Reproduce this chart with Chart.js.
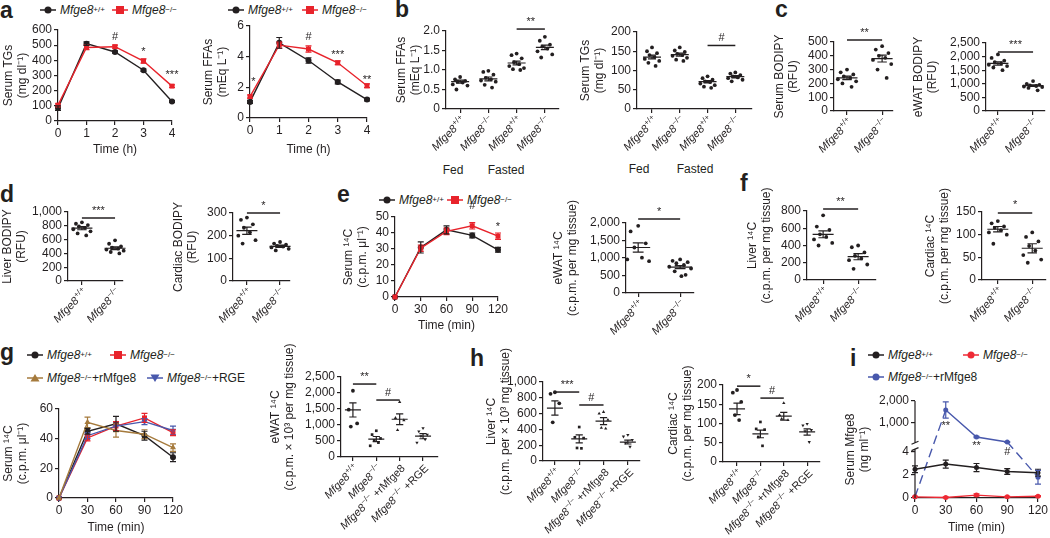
<!DOCTYPE html>
<html>
<head>
<meta charset="utf-8">
<script src="https://cdn.jsdelivr.net/npm/chart.js@4"></script>
<style>
body{margin:0;background:#fff;width:1050px;height:538px;position:relative;overflow:hidden;font-family:"Liberation Sans",Arial,sans-serif;color:#231f20}
canvas{position:absolute}
.lt{position:absolute;font-weight:bold;font-size:23px;line-height:23px}
.lg{position:absolute;font-size:12px;line-height:14px;height:14px;white-space:nowrap;display:flex;align-items:center}
.lg svg{margin-right:4px}
.lg sup{font-size:8px;vertical-align:5px;line-height:0}
.grp{position:absolute;font-size:12px;line-height:14px;transform:translateX(-50%)}
</style>
</head>
<body>
<script>
// ==== DỮ LIỆU ====

// a: TG và FFA huyết thanh theo giờ
const hoursA = [0, 1, 2, 3, 4];
const tgWT = [85, 510, 455, 335, 128];
const tgWTErr = [15, 12, 8, 8, 6];
const tgKO = [105, 485, 490, 395, 230];
const tgKOErr = [8, 15, 10, 14, 8];
const ffaWT = [1.05, 4.9, 3.75, 2.35, 1.2];
const ffaWTErr = [0.1, 0.35, 0.18, 0.12, 0.08];
const ffaKO = [1.4, 4.75, 4.5, 3.6, 2.1];
const ffaKOErr = [0.1, 0.2, 0.2, 0.12, 0.12];

// b: fed / fasted
const bFFA = [
    [0.82, 0.76, 0.72, 0.70, 0.68, 0.63, 0.60, 0.50],
    [0.98, 0.95, 0.88, 0.80, 0.76, 0.73, 0.70, 0.62, 0.55],
    [1.42, 1.38, 1.30, 1.20, 1.15, 1.10, 1.05, 1.02, 1.00],
    [1.85, 1.75, 1.65, 1.60, 1.55, 1.48, 1.40, 1.32],
];
const bFFAMean = [0.70, 0.77, 1.18, 1.58];
const bFFASem = [0.04, 0.05, 0.05, 0.06];
const bTG = [
    [160, 150, 145, 140, 135, 130, 125, 120, 112],
    [160, 152, 148, 143, 140, 138, 133, 128, 125],
    [85, 80, 76, 72, 70, 66, 62, 58, 55],
    [95, 92, 88, 85, 82, 80, 76, 72],
];
const bTGMean = [135, 141, 71, 84];
const bTGSem = [5, 4, 3, 3];

// c: BODIPY
const cSerum = [[300, 280, 265, 250, 240, 230, 215, 200, 175], [470, 445, 420, 400, 385, 370, 340, 300, 240]];
const cSerumMean = [240, 380];
const cSerumSem = [13, 25];
const cWat = [[2080, 1950, 1850, 1800, 1750, 1700, 1650, 1600, 1500], [1100, 1000, 960, 940, 920, 900, 880, 850, 760]];
const cWatMean = [1750, 930];
const cWatSem = [60, 30];

// d: BODIPY gan / tim
const dLiver = [[850, 830, 810, 790, 770, 750, 720, 690, 660], [590, 540, 500, 485, 470, 455, 440, 420, 400]];
const dLiverMean = [765, 475];
const dLiverSem = [22, 20];
const dHeart = [[280, 270, 250, 235, 215, 200, 180, 165], [172, 165, 160, 155, 152, 148, 142, 135]];
const dHeartMean = [222, 153];
const dHeartSem = [16, 5];

// e: 14C
const minutes = [0, 30, 60, 90, 120];
const eWT = [0, 31, 42, 38.5, 29.5];
const eWTErr = [0, 3.5, 2.5, 1.5, 1.5];
const eKO = [0, 30.5, 41, 44.5, 38];
const eKOErr = [0, 2, 2, 2, 2];
const eWat = [[1920, 1760, 1420, 1300, 1010, 960, 910], [960, 920, 880, 850, 800, 750, 700, 620, 520, 480]];
const eWatMean = [1300, 740];
const eWatSem = [130, 45];

// f: 14C gan / tim
const fLiver = [[750, 620, 580, 530, 500, 470, 430, 400], [400, 380, 320, 280, 250, 230, 180, 130]];
const fLiverMean = [530, 270];
const fLiverSem = [40, 35];
const fHeart = [[130, 125, 118, 115, 110, 105, 100, 80], [105, 95, 85, 75, 65, 55, 45, 38]];
const fHeartMean = [112, 70];
const fHeartSem = [6, 10];

// g: 4 nhóm
const gWT = [0, 45, 50, 42, 27.5];
const gWTErr = [0, 2, 5, 3, 3];
const gKO = [0, 40.5, 48.5, 54, 44];
const gKOErr = [0, 2, 3, 3, 2];
const gRM = [0, 51, 45.5, 43, 34];
const gRMErr = [0, 3.5, 4.5, 3, 2.5];
const gRGE = [0, 42, 48.5, 51.5, 45.5];
const gRGEErr = [0, 2, 3, 2, 3];
const gWat = [[2070, 1480, 1050, 950], [820, 700, 580, 520, 450, 350], [1720, 1220, 1150, 840], [900, 800, 700, 650, 550, 450]];
const gWatMean = [1470, 560, 1180, 650];
const gWatSem = [220, 80, 170, 80];

// h
const hLiver = [[870, 850, 730, 490], [430, 300, 290, 165, 160], [620, 600, 520, 420, 410], [330, 310, 265, 230, 180]];
const hLiverMean = [670, 280, 505, 240];
const hLiverSem = [90, 50, 45, 25];
const hHeart = [[187, 180, 156, 122, 109], [104, 86, 84, 65, 42], [153, 122, 109, 112], [99, 95, 83, 80, 52]];
const hHeartMean = [138, 73, 119, 78];
const hHeartSem = [15, 10, 10, 8];

// i: Mfge8 huyết thanh (trục gãy)
const iWT = [2.5, 2.95, 2.65, 2.3, 2.2];
const iWTErr = [0.3, 0.35, 0.35, 0.25, 0.3];
const iKO = [0.1, 0.05, 0.25, 0.1, 0.15];
const iKOErr = [0.05, 0.05, 0.1, 0.05, 0.05];
const iRM = [0.1, 1590, 360, 136, 1.8];
const iRMErr = [0, 370, 30, 15, 0.6];
const iTicks = [0, 2, 4, 1000, 2000];

// nhãn kiểu gen: [chỉ số trên, phần đuôi]
const WT = ["+/+", ""];
const KO = ["−/−", ""];
const KORM = ["−/−", " +rMfge8"];
const KORGE = ["−/−", " +RGE"];
const twoGeno = [WT, KO];
const fourFed = [WT, KO, WT, KO];
const fourTreat = [WT, KO, KORM, KORGE];

// ==== KIỂU ====
const FONT = '"Liberation Sans", Arial, Helvetica, sans-serif';
const INK = "#231f20";
const RED = "#e8232b";
const BROWN = "#a57a3c";
const BLUE = "#4858ac";
const JIT = [0, -0.18, 0.18, -0.09, 0.09, -0.26, 0.26, -0.13, 0.13, 0.03];

Chart.defaults.font.family = FONT;
Chart.defaults.color = INK;

// trục gãy cho panel i
const brk = (v) => (v <= 5 ? v : 4.61 + (1.91 * v) / 1000);

function fmt(v, dec) {
    if (v === 0) return "0";
    return dec ? v.toFixed(dec) : v.toLocaleString("en-US");
}

function steps(max, step) {
    const out = [];
    for (let i = 0; i * step <= max + 1e-9; i++) out.push(Math.round(i * step * 1000) / 1000);
    return out;
}

function drawGeno(ctx, x, y, g) {
    const [sup, tail] = g;
    const fi = `italic 11px ${FONT}`, fs = `8px ${FONT}`, fn = `11px ${FONT}`;
    ctx.font = fi;
    const w1 = ctx.measureText("Mfge8").width + 0.5;
    ctx.font = fs;
    const w2 = ctx.measureText(sup).width;
    ctx.font = fn;
    const w3 = tail ? ctx.measureText(tail).width : 0;
    ctx.save();
    ctx.translate(x, y);
    ctx.rotate(-Math.PI / 4);
    ctx.fillStyle = INK;
    ctx.textAlign = "left";
    ctx.textBaseline = "alphabetic";
    let p = -(w1 + w2 + w3);
    ctx.font = fi;
    ctx.fillText("Mfge8", p, 0);
    p += w1;
    ctx.font = fs;
    ctx.fillText(sup, p, -4.5);
    p += w2;
    if (tail) {
        ctx.font = fn;
        ctx.fillText(tail, p, 0);
    }
    ctx.restore();
}

// plugin: error bar, mean ± SEM, vạch ý nghĩa, ghi chú, nhãn kiểu gen
const extras = {
    id: "extras",
    afterDraw(chart, args, o) {
        const ctx = chart.ctx, sx = chart.scales.x, sy = chart.scales.y, ca = chart.chartArea;
        const map = o.map || ((v) => v);
        ctx.save();
        ctx.lineWidth = 1.2;
        chart.data.datasets.forEach((ds, di) => {
            if (!ds.errs) return;
            const meta = chart.getDatasetMeta(di);
            ctx.strokeStyle = ds.borderColor;
            ds.raw.forEach((v, i) => {
                const e = ds.errs[i];
                if (!e) return;
                const px = meta.data[i].x;
                const t = sy.getPixelForValue(map(v + e));
                const b = sy.getPixelForValue(map(Math.max(v - e, 0)));
                ctx.beginPath();
                ctx.moveTo(px, t); ctx.lineTo(px, b);
                ctx.moveTo(px - 3, t); ctx.lineTo(px + 3, t);
                ctx.moveTo(px - 3, b); ctx.lineTo(px + 3, b);
                ctx.stroke();
            });
        });
        ctx.strokeStyle = INK;
        const mw = o.mw || 10.5, cw = mw * 0.45;
        (o.means || []).forEach((m, i) => {
            const px = sx.getPixelForValue(i);
            const pm = sy.getPixelForValue(m);
            const pt = sy.getPixelForValue(m + o.sems[i]);
            const pb = sy.getPixelForValue(m - o.sems[i]);
            ctx.beginPath();
            ctx.moveTo(px - mw, pm); ctx.lineTo(px + mw, pm);
            ctx.moveTo(px, pt); ctx.lineTo(px, pb);
            ctx.moveTo(px - cw, pt); ctx.lineTo(px + cw, pt);
            ctx.moveTo(px - cw, pb); ctx.lineTo(px + cw, pb);
            ctx.stroke();
        });
        ctx.fillStyle = INK;
        ctx.font = `11px ${FONT}`;
        ctx.textAlign = "center";
        (o.sig || []).forEach(([a, b, v, t]) => {
            const pa = sx.getPixelForValue(a), pb = sx.getPixelForValue(b), py = sy.getPixelForValue(v);
            ctx.lineWidth = 1.5;
            ctx.beginPath();
            ctx.moveTo(pa, py); ctx.lineTo(pb, py);
            ctx.stroke();
            ctx.textBaseline = "bottom";
            ctx.fillText(t, (pa + pb) / 2, py - 2);
        });
        (o.notes || []).forEach(([vx, vy, t]) => {
            ctx.textBaseline = "middle";
            ctx.fillText(t, sx.getPixelForValue(vx), sy.getPixelForValue(vy));
        });
        if (o.brk) {
            const x = ca.left, [lo, hi] = o.brk;
            ctx.lineWidth = 1.2;
            ctx.beginPath();
            ctx.moveTo(x, ca.bottom); ctx.lineTo(x, sy.getPixelForValue(lo));
            ctx.moveTo(x, sy.getPixelForValue(hi)); ctx.lineTo(x, ca.top);
            [lo, hi].forEach((v) => {
                const p = sy.getPixelForValue(v);
                ctx.moveTo(x - 3.5, p + 1.5); ctx.lineTo(x + 3.5, p - 1.5);
            });
            ctx.stroke();
        }
        if (o.geno) o.geno.forEach((g, i) => drawGeno(ctx, sx.getPixelForValue(i) + 6, ca.bottom + 12, g));
        ctx.restore();
    },
};

function place(c) {
    const pt = c.pt ?? 24, pr = c.pr ?? 12;
    const cv = document.createElement("canvas");
    cv.width = c.x1 - c.x0 + c.yw + pr;
    cv.height = c.yB - c.yT + pt + c.xh;
    cv.style.left = c.x0 - c.yw + "px";
    cv.style.top = c.yT - pt + "px";
    document.body.appendChild(cv);
    return { cv, pt, pr };
}

const axisLine = { color: INK, width: 1.2 };
const axisGrid = { drawOnChartArea: false, color: INK, tickLength: 4, lineWidth: 1.2 };

function yAxis(c) {
    const tv = c.yticks ? c.yticks.map(c.map) : steps(c.ymax, c.step);
    return {
        min: 0,
        max: c.ymax,
        border: c.yticks ? { display: false } : axisLine,
        grid: axisGrid,
        afterBuildTicks: (s) => { s.ticks = tv.map((v) => ({ value: v })); },
        ticks: {
            autoSkip: false, padding: 2, color: INK, font: { size: 12 },
            callback: (v, i) => (c.yticks ? fmt(c.yticks[i]) : fmt(v, c.dec)),
        },
        title: { display: true, text: c.ytitle, padding: 0, color: INK, font: { size: 12 } },
        afterFit: (s) => { s.width = c.yw; },
    };
}

function baseOptions(pt, pr, ext) {
    return {
        responsive: false,
        animation: false,
        devicePixelRatio: 1,
        layout: { padding: { top: pt, right: pr, left: 0, bottom: 0 } },
        plugins: { legend: { display: false }, tooltip: { enabled: false }, extras: ext },
    };
}

function dotChart(c) {
    const { cv, pt, pr } = place(c);
    const pts = [];
    c.groups.forEach((g, i) => g.forEach((v, j) => pts.push({ x: i + JIT[j % JIT.length], y: v, k: i })));
    const opts = baseOptions(pt, pr, { means: c.means, sems: c.sems, sig: c.sig, geno: c.geno, mw: c.mw });
    opts.scales = {
        x: {
            type: "linear",
            min: c.xmin,
            max: c.xmax,
            border: axisLine,
            grid: axisGrid,
            ticks: { display: false },
            afterBuildTicks: (s) => { s.ticks = c.geno.map((_, i) => ({ value: i })); },
            afterFit: (s) => { s.height = c.xh; },
        },
        y: yAxis(c),
    };
    new Chart(cv, {
        type: "scatter",
        data: {
            datasets: [{
                data: pts,
                pointRadius: 1.9,
                pointBorderWidth: 0,
                pointBackgroundColor: INK,
                pointStyle: (ctx) => (c.shapes && ctx.raw ? c.shapes[ctx.raw.k] : "circle"),
                pointRotation: (ctx) => (c.shapes && ctx.raw && ctx.raw.k === 3 ? 180 : 0),
                clip: false,
            }],
        },
        options: opts,
        plugins: [extras],
    });
}

function lineChart(c) {
    const { cv, pt, pr } = place(c);
    const map = c.map || ((v) => v);
    const opts = baseOptions(pt, pr, { notes: c.notes, map: c.map, brk: c.brk });
    opts.scales = {
        x: {
            type: "linear",
            min: c.xs[0],
            max: c.xs[c.xs.length - 1],
            border: axisLine,
            grid: axisGrid,
            afterBuildTicks: (s) => { s.ticks = c.xs.map((v) => ({ value: v })); },
            ticks: { autoSkip: false, maxRotation: 0, minRotation: 0, padding: 1, color: INK, font: { size: 12 } },
            title: { display: true, text: c.xtitle, padding: 0, color: INK, font: { size: 12 } },
            afterFit: (s) => { s.height = c.xh; },
        },
        y: yAxis(c),
    };
    new Chart(cv, {
        type: "line",
        data: {
            datasets: c.series.map((s) => ({
                data: c.xs.map((t, i) => ({ x: t, y: map(s.v[i]) })),
                raw: s.v,
                errs: s.e,
                borderColor: s.color,
                backgroundColor: s.color,
                pointBackgroundColor: s.color,
                pointBorderWidth: 0,
                pointStyle: s.shape,
                pointRadius: s.r || 3,
                pointRotation: s.rot || 0,
                borderWidth: 1.4,
                tension: 0,
                clip: false,
                segment: c.brk
                    ? { borderDash: (ctx) => ((ctx.p0.parsed.y < 4.5) !== (ctx.p1.parsed.y < 4.5) ? [9, 5] : undefined) }
                    : {},
            })),
        },
        options: opts,
        plugins: [extras],
    });
}

// ==== CHÚ THÍCH / CHỮ ====
function text(cls, x, y, html) {
    const d = document.createElement("div");
    d.className = cls;
    d.style.left = x + "px";
    d.style.top = y + "px";
    d.innerHTML = html;
    document.body.appendChild(d);
}

function marker(c, s) {
    let m = `<circle cx="8" cy="5" r="3.5" fill="${c}"/>`;
    if (s === "rect") m = `<rect x="4" y="1" width="8" height="8" fill="${c}"/>`;
    if (s === "tri") m = `<path d="M8 1 L12.5 8.5 L3.5 8.5Z" fill="${c}"/>`;
    if (s === "tridown") m = `<path d="M3.5 1.5 L12.5 1.5 L8 9Z" fill="${c}"/>`;
    return `<svg width="16" height="10"><line x1="0" y1="5" x2="16" y2="5" stroke="${c}" stroke-width="1.5"/>${m}</svg>`;
}

const lgWT = "<i>Mfge8</i><sup>+/+</sup>";
const lgKO = "<i>Mfge8</i><sup>−/−</sup>";

function legendItem(x, y, color, shape, html) {
    text("lg", x, y - 7, marker(color, shape) + html);
}

[["a", 0, 18], ["b", 395, 17], ["c", 775, 17], ["d", 0, 202], ["e", 337, 202],
 ["f", 740, 191], ["g", 0, 360], ["h", 470, 366], ["i", 850, 366]]
    .forEach(([l, x, b]) => text("lt", x, b - 19.5, l));

legendItem(40, 10, INK, "circle", lgWT);
legendItem(112, 10, RED, "rect", lgKO);
legendItem(228, 10, INK, "circle", lgWT);
legendItem(302, 10, RED, "rect", lgKO);
legendItem(379, 200, INK, "circle", lgWT);
legendItem(447, 200, RED, "rect", lgKO);
legendItem(27, 355, INK, "circle", lgWT);
legendItem(110, 355, RED, "rect", lgKO);
legendItem(27, 378, BROWN, "tri", lgKO + "+rMfge8");
legendItem(147, 378, BLUE, "tridown", lgKO + "+RGE");
legendItem(868, 355, INK, "circle", lgWT);
legendItem(963, 355, "#ee2a35", "circle", lgKO);
legendItem(868, 377, BLUE, "circle", lgKO + "+rMfge8");

text("grp", 453, 163, "Fed");
text("grp", 506, 163, "Fasted");
text("grp", 639, 162, "Fed");
text("grp", 695, 162, "Fasted");

// ==== VẼ ====
// a
lineChart({
    x0: 58, x1: 172, yT: 30, yB: 121, yw: 57, xh: 36, pr: 14,
    ymax: 600, step: 100, ytitle: ["Serum TGs", "(mg dl⁻¹)"],
    xs: hoursA, xtitle: "Time (h)",
    series: [
        { v: tgKO, e: tgKOErr, color: RED, shape: "rect", r: 3.5 },
        { v: tgWT, e: tgWTErr, color: INK, shape: "circle" },
    ],
    notes: [[2, 554, "#"], [3, 455, "*"], [4, 303, "***"]],
});
lineChart({
    x0: 250, x1: 367, yT: 26, yB: 118, yw: 49, xh: 39, pr: 14,
    ymax: 6, step: 2, ytitle: ["Serum FFAs", "(mEq L⁻¹)"],
    xs: hoursA, xtitle: "Time (h)",
    series: [
        { v: ffaKO, e: ffaKOErr, color: RED, shape: "rect", r: 3.5 },
        { v: ffaWT, e: ffaWTErr, color: INK, shape: "circle" },
    ],
    notes: [[0.12, 2.35, "*"], [2, 5.3, "#"], [3, 4.1, "***"], [4, 2.5, "**"]],
});

// b
dotChart({
    x0: 446, x1: 559, yT: 31, yB: 109, yw: 52, xh: 70, xmin: -0.5, xmax: 3.5,
    ymax: 2, step: 0.5, dec: 1, ytitle: ["Serum FFAs", "(mEq L⁻¹)"],
    groups: bFFA, means: bFFAMean, sems: bFFASem, geno: fourFed, mw: 9,
    sig: [[2, 3, 2.05, "**"]],
});
dotChart({
    x0: 637, x1: 752, yT: 32, yB: 109, yw: 59, xh: 70, xmin: -0.54, xmax: 3.6,
    ymax: 200, step: 50, ytitle: ["Serum TGs", "(mg dl⁻¹)"],
    groups: bTG, means: bTGMean, sems: bTGSem, geno: fourFed, mw: 9,
    sig: [[2, 3, 165, "#"]],
});

// c
dotChart({
    x0: 834, x1: 893, yT: 42, yB: 111, yw: 62, xh: 70, xmin: -0.37, xmax: 1.31,
    ymax: 500, step: 100, ytitle: ["Serum BODIPY", "(RFU)"],
    groups: cSerum, means: cSerumMean, sems: cSerumSem, geno: twoGeno,
    sig: [[0, 1, 514, "**"]],
});
dotChart({
    x0: 986, x1: 1045, yT: 43, yB: 111, yw: 75, xh: 70, pr: 4, xmin: -0.34, xmax: 1.34,
    ymax: 2500, step: 500, ytitle: ["eWAT BODIPY", "(RFU)"],
    groups: cWat, means: cWatMean, sems: cWatSem, geno: twoGeno,
    sig: [[0, 1, 2170, "***"]],
});

// d
dotChart({
    x0: 68, x1: 123, yT: 212, yB: 281, yw: 68, xh: 70, xmin: -0.42, xmax: 1.24,
    ymax: 1000, step: 200, ytitle: ["Liver BODIPY", "(RFU)"],
    groups: dLiver, means: dLiverMean, sems: dLiverSem, geno: twoGeno,
    sig: [[0, 1, 913, "***"]],
});
dotChart({
    x0: 233, x1: 290, yT: 213, yB: 281, yw: 62, xh: 70, xmin: -0.42, xmax: 1.3,
    ymax: 300, step: 100, ytitle: ["Cardiac BODIPY", "(RFU)"],
    groups: dHeart, means: dHeartMean, sems: dHeartSem, geno: twoGeno,
    sig: [[0, 1, 300, "*"]],
});

// e
lineChart({
    x0: 395, x1: 498, yT: 217, yB: 297, yw: 54, xh: 36, pr: 14,
    ymax: 50, step: 10, ytitle: ["Serum ¹⁴C", "(c.p.m. μl⁻¹)"],
    xs: minutes, xtitle: "Time (min)",
    series: [
        { v: eKO, e: eKOErr, color: RED, shape: "rect", r: 3.5 },
        { v: eWT, e: eWTErr, color: INK, shape: "circle" },
    ],
    notes: [[90, 57, "#"], [120, 43.7, "*"]],
});
dotChart({
    x0: 626, x1: 694, yT: 223, yB: 293, yw: 75, xh: 70, pt: 32, xmin: -0.29, xmax: 1.33,
    ymax: 2000, step: 500, ytitle: ["eWAT ¹⁴C", "(c.p.m. per mg tissue)"],
    groups: eWat, means: eWatMean, sems: eWatSem, geno: twoGeno, mw: 12,
    sig: [[0, 1, 2114, "*"]],
});

// f
dotChart({
    x0: 807, x1: 876, yT: 211, yB: 280, yw: 62, xh: 70, pt: 32, xmin: -0.46, xmax: 1.51,
    ymax: 800, step: 200, ytitle: ["Liver ¹⁴C", "(c.p.m. per mg tissue)"],
    groups: fLiver, means: fLiverMean, sems: fLiverSem, geno: twoGeno,
    sig: [[0, 1, 823, "**"]],
});
dotChart({
    x0: 982, x1: 1047, yT: 212, yB: 280, yw: 59, xh: 70, pt: 32, pr: 3, xmin: -0.46, xmax: 1.4,
    ymax: 150, step: 50, ytitle: ["Cardiac ¹⁴C", "(c.p.m. per mg tissue)"],
    groups: fHeart, means: fHeartMean, sems: fHeartSem, geno: twoGeno,
    sig: [[0, 1, 148, "*"]],
});

// g
lineChart({
    x0: 59, x1: 173, yT: 409, yB: 498, yw: 58, xh: 37, pr: 14,
    ymax: 60, step: 20, ytitle: ["Serum ¹⁴C", "(c.p.m. μl⁻¹)"],
    xs: minutes, xtitle: "Time (min)",
    series: [
        { v: gRM, e: gRMErr, color: BROWN, shape: "triangle", r: 3.5 },
        { v: gRGE, e: gRGEErr, color: BLUE, shape: "triangle", r: 3.5, rot: 180 },
        { v: gKO, e: gKOErr, color: RED, shape: "rect", r: 3.5 },
        { v: gWT, e: gWTErr, color: INK, shape: "circle" },
    ],
});
dotChart({
    x0: 341, x1: 438, yT: 377, yB: 457, yw: 73, xh: 85, pt: 45, xmin: -0.51, xmax: 3.64,
    ymax: 2500, step: 500, ytitle: ["eWAT ¹⁴C", "(c.p.m. × 10³ per mg tissue)"],
    groups: gWat, means: gWatMean, sems: gWatSem, geno: fourTreat, mw: 8,
    shapes: ["circle", "rect", "triangle", "triangle"],
    sig: [[0, 1, 2280, "**"], [1, 2, 1780, "#"]],
});

// h
dotChart({
    x0: 543, x1: 640, yT: 382, yB: 461, yw: 59, xh: 80, pt: 45, xmin: -0.49, xmax: 3.5,
    ymax: 1000, step: 200, ytitle: ["Liver ¹⁴C", "(c.p.m. per × 10³ mg tissue)"],
    groups: hLiver, means: hLiverMean, sems: hLiverSem, geno: fourTreat, mw: 8,
    shapes: ["circle", "rect", "triangle", "triangle"],
    sig: [[0, 1, 873, "***"], [1, 2, 709, "#"]],
});
dotChart({
    x0: 723, x1: 820, yT: 385, yB: 462, yw: 57, xh: 80, pt: 40, xmin: -0.6, xmax: 3.55,
    ymax: 200, step: 50, ytitle: ["Cardiac ¹⁴C", "(c.p.m. per mg tissue)"],
    groups: hHeart, means: hHeartMean, sems: hHeartSem, geno: fourTreat, mw: 8,
    shapes: ["circle", "rect", "triangle", "triangle"],
    sig: [[0, 1, 197, "*"], [1, 2, 166, "#"]],
});

// i (trục y gãy)
lineChart({
    x0: 915, x1: 1040, yT: 401, yB: 498, yw: 72, xh: 37, pr: 9,
    ymax: brk(2000), yticks: iTicks, map: brk, brk: [4.25, 4.8],
    ytitle: ["Serum Mfge8", "(ng ml⁻¹)"],
    xs: minutes, xtitle: "Time (min)",
    series: [
        { v: iKO, e: iKOErr, color: "#ee2a35", shape: "circle", r: 2.5 },
        { v: iWT, e: iWTErr, color: INK, shape: "circle", r: 2.5 },
        { v: iRM, e: iRMErr, color: BLUE, shape: "circle", r: 2.5 },
    ],
    notes: [[30, 6.26, "**"], [60, 4.52, "**"], [90, 4.0, "#"]],
});
</script>
</body>
</html>
